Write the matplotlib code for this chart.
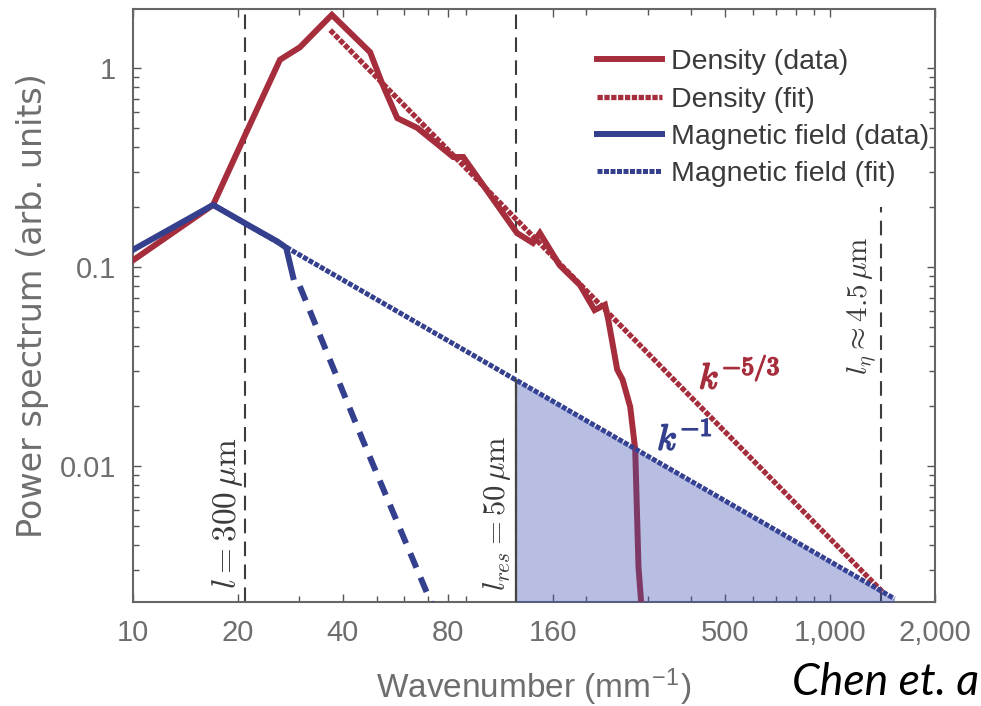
import numpy as np
import matplotlib
matplotlib.use("Agg")
import matplotlib.pyplot as plt
import matplotlib.patheffects as pe
from matplotlib.ticker import FixedLocator, FixedFormatter, LogLocator, NullFormatter

plt.rcParams['font.family'] = ['Liberation Sans', 'DejaVu Sans']
plt.rcParams['mathtext.fontset'] = 'cm'

# Density spectrum (measured)
dens_k = [10, 16.97, 21.1, 26.4, 30.1, 37.2, 47.9, 51.8, 57.3, 65.4, 82.9, 88.6,
          126.4, 140.4, 147, 167.5, 191.7, 211, 226, 231, 245, 254, 267, 276, 282, 288]
dens_p = [0.108, 0.205, 0.471, 1.10, 1.27, 1.85, 1.20, 0.84, 0.56, 0.50, 0.357, 0.357,
          0.148, 0.132, 0.148, 0.102, 0.081, 0.0607, 0.0645, 0.0543, 0.0305, 0.0271,
          0.0198, 0.0121, 0.00312, 0.0019]

# Density power-law fit (end points)
dens_fit_k = [36.8, 1419]
dens_fit_p = [1.55, 0.00231]

# Magnetic field spectrum (measured): smooth part and steep roll-off
mag_k = [10, 16.97, 22, 26, 27.5, 28.8]
mag_p = [0.122, 0.205, 0.158, 0.134, 0.125, 0.089]
mag_tail_k = [30.1, 45.6, 72.1]
mag_tail_p = [0.080, 0.0135, 0.0020]

# Magnetic field power-law fit (end points)
mag_fit_k = [16.97, 1530]
mag_fit_p = [0.205, 0.00215]

# Characteristic wavenumbers k = 2*pi/l (l in mm)
l_box, l_res, l_eta = 0.3, 0.05, 0.0045

x_ticks = [10, 20, 40, 80, 160, 500, 1000, 2000]
x_tick_labels = ['10', '20', '40', '80', '160', '500', '1,000', '2,000']
y_ticks = [0.01, 0.1, 1]
y_tick_labels = ['0.01', '0.1', '1']

red = '#a62d3c'
blue = '#343f8e'
gray_txt = '#6e6e6e'
dash_col = '#3c3c3c'

ylo, yhi = 0.00207, 1.98

fig = plt.figure(figsize=(9.81, 7.06), dpi=100)
ax = fig.add_axes([0.1356, 0.1473, 0.8175, 0.84])
ax.set_xscale('log')
ax.set_yscale('log')
ax.set_xlim(10, 2000)
ax.set_ylim(ylo, yhi)


def power_law(k_pts, p_pts, k):
    slope = np.log(p_pts[1] / p_pts[0]) / np.log(k_pts[1] / k_pts[0])
    return p_pts[0] * (k / k_pts[0]) ** slope


# vertical reference lines
k_box, k_res, k_eta = 2 * np.pi / l_box, 2 * np.pi / l_res, 2 * np.pi / l_eta
ax.axvline(k_box, color=dash_col, lw=1.5, ls=(0, (7, 4)), zorder=1)
ax.axvline(k_res, color=dash_col, lw=1.5, ls=(0, (7, 4)), zorder=1)
ax.plot([k_eta, k_eta], [ylo, 0.2], color=dash_col, lw=1.5, ls=(0, (7, 4)), zorder=1)

# data and fits
ax.plot(dens_k, dens_p, color=red, lw=4.3, solid_joinstyle='miter', zorder=3,
        label='Density (data)')
kf = np.geomspace(dens_fit_k[0], dens_fit_k[1], 200)
ax.plot(kf, power_law(dens_fit_k, dens_fit_p, kf), color=red, lw=3.8,
        ls=(0, (1.0, 0.3)), zorder=3, label='Density (fit)')
ax.plot(mag_k, mag_p, color=blue, lw=4.3, zorder=3, label='Magnetic field (data)')
ax.plot(mag_tail_k, mag_tail_p, color=blue, lw=4.3, ls=(0, (2.6, 1.8)), zorder=3)
km = np.geomspace(mag_fit_k[0], mag_fit_k[1], 300)
ax.plot(km, power_law(mag_fit_k, mag_fit_p, km), color=blue, lw=3.6,
        ls=(0, (1.0, 0.3)), zorder=3, label='Magnetic field (fit)')

# shaded sub-resolution region under the k^-1 fit
ks = np.geomspace(k_res, mag_fit_k[1], 200)
ax.fill_between(ks, 1e-4, power_law(mag_fit_k, mag_fit_p, ks), color='#3d50b0',
                alpha=0.37, lw=0, zorder=4)
ax.plot([k_res, k_res], [ylo, power_law(mag_fit_k, mag_fit_p, k_res)],
        color='#444444', lw=1.6, zorder=4)

# annotations
ax.text(18.7, 0.00241, r'$l = 300\,\mu\mathrm{m}$', rotation=90, ha='center', va='bottom',
        fontsize=24, color='#3a3a3a')
ax.text(110.4, 0.00236, r'$l_{res} = 50\,\mu\mathrm{m}$', rotation=90, ha='center',
        va='bottom', fontsize=22, color='#3a3a3a')
ax.text(1236, 0.0286, r'$l_\eta \approx 4.5\,\mu\mathrm{m}$', rotation=90, ha='center',
        va='bottom', fontsize=21, color='#3a3a3a')
ax.text(550, 0.0277, r'$k^{-5/3}$', ha='center', va='center', fontsize=26, color=red,
        path_effects=[pe.withStroke(linewidth=1.2, foreground=red)])
ax.text(383, 0.0135, r'$k^{-1}$', ha='center', va='center', fontsize=26, color=blue,
        path_effects=[pe.withStroke(linewidth=1.2, foreground=blue)])

# axes styling
ax.xaxis.set_major_locator(FixedLocator(x_ticks))
ax.xaxis.set_major_formatter(FixedFormatter(x_tick_labels))
ax.xaxis.set_minor_locator(LogLocator(base=10, subs=np.arange(2, 10)))
ax.xaxis.set_minor_formatter(NullFormatter())
ax.yaxis.set_major_locator(FixedLocator(y_ticks))
ax.yaxis.set_major_formatter(FixedFormatter(y_tick_labels))
ax.yaxis.set_minor_locator(LogLocator(base=10, subs=np.arange(2, 10)))
ax.yaxis.set_minor_formatter(NullFormatter())
ax.tick_params(which='both', direction='in', top=True, right=True, color='#555555',
               width=1.0, labelsize=21, labelcolor=gray_txt)
ax.tick_params(which='major', length=6, pad=12)
ax.tick_params(which='minor', length=4)
for s in ax.spines.values():
    s.set_color('#666666')
    s.set_linewidth(1.5)

ax.set_xlabel(r'Wavenumber (mm$^{\mathregular{-1}}$)', fontsize=24, color=gray_txt,
              labelpad=14)
ax.set_ylabel('Power spectrum (arb. units)', fontsize=24, color=gray_txt, labelpad=8,
              family='DejaVu Sans')

leg = ax.legend(loc='upper left', bbox_to_anchor=(0.578, 0.932), frameon=False,
                fontsize=20.5, handlelength=2.3, handletextpad=0.3, labelspacing=0.4,
                borderaxespad=0.0, borderpad=0.0)
for t in leg.get_texts():
    t.set_color('#3a3a3a')

fig.text(0.998, 0.0156, 'Chen et. a', fontsize=32, style='italic', family='Lato',
         color='black', ha='right', va='baseline')

fig.savefig('out.png', dpi=100)
